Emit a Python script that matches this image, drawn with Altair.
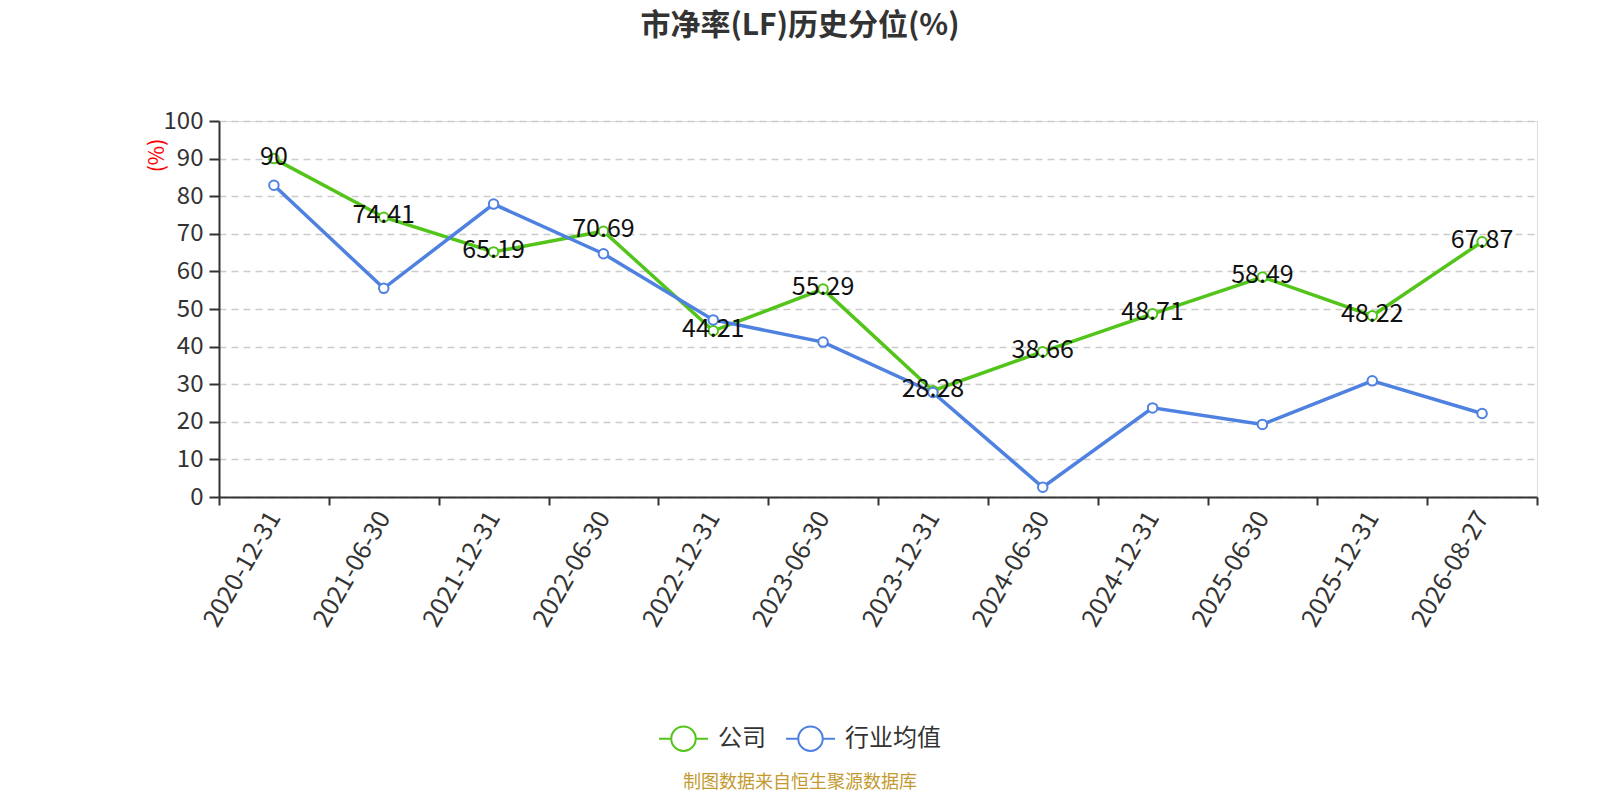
import altair as alt
import pandas as pd

dates = ["2020-12-31", "2021-06-30", "2021-12-31", "2022-06-30", "2022-12-31", "2023-06-30",
         "2023-12-31", "2024-06-30", "2024-12-31", "2025-06-30", "2025-12-31", "2026-08-27"]
company = [90, 74.41, 65.19, 70.69, 44.21, 55.29, 28.28, 38.66, 48.71, 58.49, 48.22, 67.87]
company_labels = ["90", "74.41", "65.19", "70.69", "44.21", "55.29", "28.28", "38.66",
                  "48.71", "58.49", "48.22", "67.87"]
industry = [82.9, 55.5, 77.9, 64.7, 47.1, 41.2, 27.8, 2.6, 23.7, 19.3, 30.9, 22.2]
series_names = ["公司", "行业均值"]
series_colors = ["#52c41a", "#4e81e0"]
title_text = "市净率(LF)历史分位(%)"
footer_text = "制图数据来自恒生聚源数据库"

FONT = "Noto Sans CJK SC"

rows = []
for d, v, lab in zip(dates, company, company_labels):
    rows.append({"date": d, "value": v, "series": series_names[0], "label": lab})
for d, v in zip(dates, industry):
    rows.append({"date": d, "value": v, "series": series_names[1], "label": ""})
df = pd.DataFrame(rows)
df_label = df[df["series"] == series_names[0]]

x_enc = alt.X("date:N", sort=dates,
              scale=alt.Scale(type="band", paddingInner=0, paddingOuter=0),
              axis=alt.Axis(title=None, labelAngle=-60, labelAlign="right", labelBaseline="middle",
                            tickBand="extent", grid=False, tickSize=8, tickWidth=2, tickColor="#333",
                            domainColor="#333", domainWidth=2, labelFontSize=25, labelFont=FONT,
                            labelColor="#333", labelPadding=8))
y_enc = alt.Y("value:Q", scale=alt.Scale(domain=[0, 100], nice=False),
              axis=alt.Axis(values=list(range(0, 101, 10)), title="(%)", titleColor="red",
                            titleFontSize=21, titleFont=FONT, titleFontWeight="normal",
                            titleX=-62, titleY=34, titleAlign="center", titleBaseline="middle",
                            titleAngle=-90,
                            labelFontSize=24, labelFont=FONT, labelColor="#333", labelPadding=6,
                            tickSize=10, tickWidth=2, tickColor="#333",
                            domainColor="#333", domainWidth=2,
                            gridColor="#cccccc", gridDash=[7, 5], gridWidth=1.5))

legend_path = "M-1,0 L-0.5,0 M0.5,0 L1,0 M0.5,0 A0.5,0.5 0 1,1 -0.5,0 A0.5,0.5 0 1,1 0.5,0 Z"
stroke_enc = alt.Stroke("series:N",
                        scale=alt.Scale(domain=series_names, range=series_colors),
                        legend=alt.Legend(orient="none", legendX=439, legendY=592,
                                          direction="horizontal", title=None,
                                          symbolType=legend_path, symbolSize=2401,
                                          symbolStrokeWidth=2, symbolFillColor="white",
                                          labelFontSize=24, labelFont=FONT, labelColor="#333",
                                          labelOffset=9, columnPadding=16, padding=0))

base = alt.Chart(df)
lines = base.mark_line(strokeWidth=3.5).encode(x=x_enc, y=y_enc, stroke=stroke_enc,
                                               order=alt.Order("series:N"))
points = base.mark_point(filled=True, fill="white", size=90, strokeWidth=2, opacity=1).encode(
    x=x_enc, y=y_enc, stroke=stroke_enc)
labels = alt.Chart(df_label).mark_text(fontSize=25, font=FONT, color="#111", dy=-2,
                                       baseline="middle", align="center").encode(
    x=x_enc, y=y_enc, text="label:N")
footer = alt.Chart(pd.DataFrame({"t": [footer_text]})).mark_text(
    fontSize=18, font=FONT, color="#c39a30", align="center", baseline="middle").encode(
    text="t:N", x=alt.value(581), y=alt.value(662))

chart = alt.layer(lines, points, labels, footer).properties(
    width=1318, height=376,
    title=alt.TitleParams(text=title_text, fontSize=30, fontWeight="bold", font=FONT,
                          color="#333", anchor="middle", dx=-78, offset=68),
    padding={"left": 211, "top": 113, "right": 55, "bottom": 295},
    autosize=alt.AutoSizeParams(type="none"),
).configure_view(stroke=None).configure(background="white")

chart.save("out.html", embed_options={"renderer": "svg", "actions": False})
